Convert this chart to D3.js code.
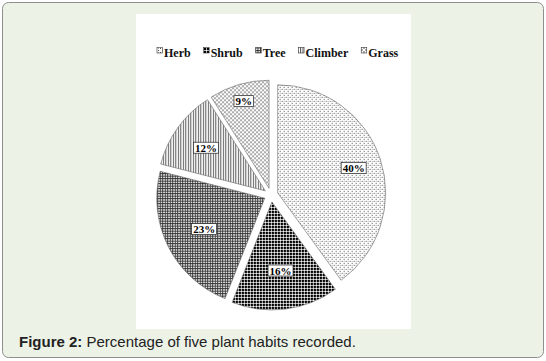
<!DOCTYPE html>
<html>
<head>
<meta charset="utf-8">
<script src="https://cdn.jsdelivr.net/npm/d3@7"></script>
<style>
  html, body { margin: 0; padding: 0; background: #fff; }
  svg { display: block; }
</style>
</head>
<body>
<div id="chart"></div>
<script>
// plant habits and their share (%)
const habits = ["Herb", "Shrub", "Tree", "Climber", "Grass"];
const shares = [40, 16, 23, 12, 9];
const captionBold = "Figure 2:";
const captionText = " Percentage of five plant habits recorded.";

const w = 546;
const h = 361;

const svg = d3
  .select("#chart")
  .append("svg")
  .attr("width", w)
  .attr("height", h);

// page frame
svg
  .append("rect")
  .attr("x", 2.5)
  .attr("y", 2.5)
  .attr("width", w - 5)
  .attr("height", 355)
  .attr("rx", 6)
  .attr("fill", "#edf2e7")
  .attr("stroke", "#8f8f8f")
  .attr("stroke-width", 1);

// white figure area
svg
  .append("rect")
  .attr("x", 136)
  .attr("y", 14)
  .attr("width", 275)
  .attr("height", 315)
  .attr("fill", "#fff");

// fill patterns
const defs = svg.append("defs");

function makePattern(id, size, draw) {
  const p = defs
    .append("pattern")
    .attr("id", id)
    .attr("patternUnits", "userSpaceOnUse")
    .attr("width", size)
    .attr("height", size);
  p.append("rect").attr("width", size).attr("height", size).attr("fill", "#fff");
  draw(p);
}

// herb: fine staggered dots
makePattern("p-herb", 4, (p) => {
  p.append("rect").attr("x", 0).attr("y", 0).attr("width", 1).attr("height", 1).attr("fill", "#555");
  p.append("rect").attr("x", 2).attr("y", 2).attr("width", 1).attr("height", 1).attr("fill", "#555");
  p.append("rect").attr("x", 2).attr("y", 0).attr("width", 1).attr("height", 1).attr("fill", "#aaa");
});
// shrub: heavy dot lattice
makePattern("p-shrub", 3, (p) => {
  p.append("rect").attr("x", 0).attr("y", 0).attr("width", 2).attr("height", 2).attr("fill", "#000");
  p.append("rect").attr("x", 2).attr("y", 0.5).attr("width", 1).attr("height", 1).attr("fill", "#666");
  p.append("rect").attr("x", 0.5).attr("y", 2).attr("width", 1).attr("height", 1).attr("fill", "#666");
});
// tree: small grid
makePattern("p-tree", 2.5, (p) => {
  p.append("rect").attr("x", 0).attr("y", 0).attr("width", 2.5).attr("height", 1).attr("fill", "#333");
  p.append("rect").attr("x", 0).attr("y", 0).attr("width", 1).attr("height", 2.5).attr("fill", "#333");
});
// climber: vertical lines
makePattern("p-climber", 2.5, (p) => {
  p.append("rect").attr("x", 0).attr("y", 0).attr("width", 1).attr("height", 2.5).attr("fill", "#555");
});
// grass: diagonal weave
makePattern("p-grass", 4, (p) => {
  p.append("path").attr("d", "M0,0L4,4M4,0L0,4").attr("stroke", "#888").attr("stroke-width", 0.7);
});

const patternIds = ["p-herb", "p-shrub", "p-tree", "p-climber", "p-grass"];
const fill = d3.scaleOrdinal().domain(habits).range(patternIds.map((id) => `url(#${id})`));

// legend
const legend = svg.append("g").attr("id", "legend");
let lx = 157;
habits.forEach((name) => {
  const item = legend.append("g");
  item
    .append("rect")
    .attr("x", lx)
    .attr("y", 47.5)
    .attr("width", 5.5)
    .attr("height", 5.5)
    .attr("fill", fill(name))
    .attr("stroke", "#333")
    .attr("stroke-width", 0.6);
  const t = item
    .append("text")
    .attr("x", lx + 7)
    .attr("y", 57)
    .attr("font-family", "'Liberation Serif', 'Times New Roman', serif")
    .attr("font-weight", "bold")
    .attr("font-size", 12)
    .attr("fill", "#111")
    .text(name);
  lx += 7 + t.node().getComputedTextLength() + 13;
});

// pie
const cx = 271;
const cy = 195;
const r = 108;
const explode = 7;

const pie = d3.pie().sort(null).value((d) => d.value);
const arcs = pie(habits.map((name, i) => ({ name, value: shares[i] })));
const arc = d3.arc().innerRadius(0).outerRadius(r);

// label distance along bisector, as share of radius
const labelFrac = [0.74, 0.64, 0.63, 0.68, 0.84];

const slices = svg
  .append("g")
  .attr("transform", `translate(${cx},${cy})`)
  .selectAll("g")
  .data(arcs)
  .enter()
  .append("g")
  .attr("transform", (d) => {
    const mid = (d.startAngle + d.endAngle) / 2;
    return `translate(${explode * Math.sin(mid)},${-explode * Math.cos(mid)})`;
  });

slices
  .append("path")
  .attr("d", arc)
  .attr("fill", (d) => fill(d.data.name))
  .attr("stroke", "#666")
  .attr("stroke-width", 0.6);

slices.each(function (d, i) {
  const g = d3.select(this);
  const lr = r * labelFrac[i];
  const [x, y] = d3.arc().innerRadius(lr).outerRadius(lr).centroid(d);
  const label = g.append("g").attr("transform", `translate(${x},${y})`);
  const t = label
    .append("text")
    .attr("text-anchor", "middle")
    .attr("y", 4)
    .attr("font-family", "'Liberation Serif', 'Times New Roman', serif")
    .attr("font-weight", "bold")
    .attr("font-size", 11)
    .attr("fill", "#000")
    .text(`${d.data.value}%`);
  const tw = t.node().getComputedTextLength();
  label
    .insert("rect", "text")
    .attr("x", -tw / 2 - 1.5)
    .attr("y", -5.5)
    .attr("width", tw + 3)
    .attr("height", 11)
    .attr("fill", "#fff")
    .attr("stroke", "#222")
    .attr("stroke-width", 0.7);
});

// caption
const caption = svg
  .append("text")
  .attr("x", 19)
  .attr("y", 347)
  .attr("font-family", "'Liberation Sans', Arial, sans-serif")
  .attr("font-size", 15)
  .attr("fill", "#222");
caption.append("tspan").attr("font-weight", "bold").text(captionBold);
caption.append("tspan").text(captionText);
</script>
</body>
</html>
